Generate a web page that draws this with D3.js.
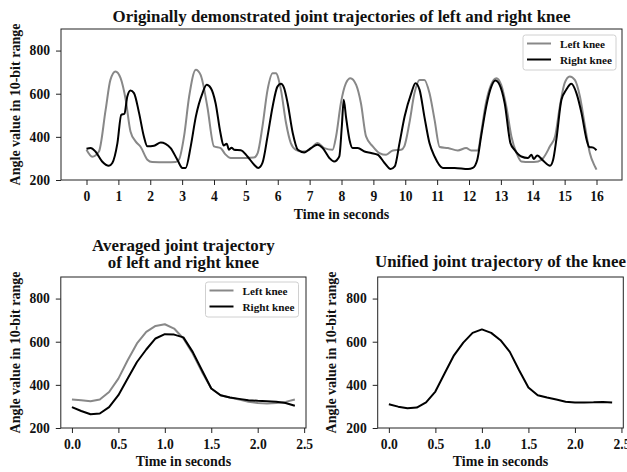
<!DOCTYPE html>
<html><head><meta charset="utf-8">
<script src="https://cdn.jsdelivr.net/npm/d3@7"></script>
<style>
html,body{margin:0;padding:0;background:#fff;}
svg text{font-family:"Liberation Serif","Times New Roman",serif;font-weight:bold;fill:#111;}
</style></head>
<body>
<svg id="chart" width="627" height="472"></svg>
<script>
// ---- Data ----
const seriesNames = ["Left knee", "Right knee"];
const yTicks = [200, 400, 600, 800];
const topXTicks = [0,1,2,3,4,5,6,7,8,9,10,11,12,13,14,15,16];
const cycleXTicks = [0.0, 0.5, 1.0, 1.5, 2.0, 2.5];

// Originally demonstrated trajectories (time in s, value)
const leftTime = [0,0.18,0.39,0.6,0.75,0.91,1.07,1.23,1.38,1.54,1.7,1.91,2.06,2.5,2.8,2.9,3.06,3.22,3.43,3.58,3.79,4.0,4.21,4.35,4.53,5.0,5.25,5.37,5.52,5.68,5.84,5.94,6.1,6.26,6.41,6.57,6.78,6.99,7.25,7.46,7.72,7.83,7.98,8.14,8.28,8.46,8.61,8.77,8.98,9.19,9.4,9.61,9.87,9.97,10.13,10.29,10.45,10.6,10.76,10.92,11.08,11.34,11.65,11.91,12.07,12.28,12.38,12.53,12.69,12.86,13.01,13.17,13.33,13.49,13.64,13.9,14.17,14.33,14.54,14.7,14.85,15.0,15.16,15.32,15.48,15.64,15.79,15.95,16.0];
const leftValues = [340,308,332,525,664,703,672,572,425,379,353,294,283,282,284,294,402,587,711,687,541,356,348,320,302,302,304,325,448,618,695,695,618,464,371,340,332,340,371,348,340,402,556,649,672,641,556,402,356,325,317,337,340,356,464,603,664,664,603,479,353,348,337,348,337,337,418,556,641,672,641,541,402,325,286,283,286,302,356,402,541,649,680,664,587,448,325,263,248];
const rightTime = [0,0.13,0.28,0.49,0.7,0.81,0.97,1.09,1.19,1.28,1.38,1.49,1.65,1.8,1.91,2.12,2.33,2.48,2.64,2.85,3.01,3.11,3.27,3.43,3.64,3.77,3.9,4.05,4.2,4.3,4.4,4.47,4.55,4.63,4.84,5.05,5.26,5.39,5.52,5.68,5.84,5.99,6.1,6.2,6.31,6.47,6.63,6.83,7.04,7.25,7.41,7.62,7.77,7.93,8.01,8.07,8.14,8.25,8.35,8.51,8.72,8.93,9.14,9.35,9.54,9.67,9.82,9.98,10.19,10.32,10.45,10.6,10.76,10.92,11.18,11.55,11.97,12.12,12.26,12.38,12.54,12.7,12.83,12.96,13.12,13.3,13.43,13.64,13.85,13.96,14.03,14.14,14.33,14.54,14.64,14.74,14.9,15.05,15.21,15.37,15.53,15.69,15.77,15.9,16.0];
const rightValues = [345,348,332,286,266,279,371,502,507,587,615,603,510,402,356,359,374,368,348,294,256,256,356,494,603,641,626,556,420,360,368,340,350,340,338,309,271,256,279,402,541,633,646,626,556,418,340,328,348,363,348,302,286,309,448,572,494,387,348,348,332,325,317,279,251,263,371,494,603,649,618,494,371,309,256,256,251,256,294,402,541,633,661,641,556,371,340,309,302,317,297,314,289,266,294,387,572,618,646,603,510,387,353,350,338];

// Averaged cycle (0.1 s steps)
const cycleTime = [0,0.1,0.2,0.3,0.4,0.5,0.6,0.7,0.8,0.9,1.0,1.1,1.2,1.3,1.4,1.5,1.6,1.7,1.8,1.9,2.0,2.1,2.2,2.3,2.4];
const avgLeft  = [332,329,324,332,367,429,514,592,646,673,681,661,615,545,460,383,352,341,332,322,316,313,316,321,332];
const avgRight = [297,279,264,267,297,352,429,506,564,615,635,633,620,553,468,383,352,341,335,329,326,324,322,316,303];
const unified  = [310,299,292,295,319,369,454,537,596,641,657,641,607,553,468,388,352,341,332,322,318,318,319,321,318];

const colors = {"Left knee": "#888888", "Right knee": "#000000"};

// ---- Drawing ----
const svg = d3.select("#chart");
let clipCount = 0;

function panel(cfg) {
  const g = svg.append("g");
  const x = d3.scaleLinear().domain(cfg.xDomain).range([cfg.left, cfg.right]);
  const y = d3.scaleLinear().domain([200, 900]).range([cfg.bottom, cfg.top]);

  const clipId = "clip" + (clipCount++);
  svg.append("clipPath").attr("id", clipId).append("rect")
    .attr("x", cfg.left).attr("y", cfg.top).attr("width", cfg.right - cfg.left).attr("height", cfg.bottom - cfg.top);

  const line = d3.line().x(d => x(d[0])).y(d => y(d[1])).curve(cfg.curve || d3.curveLinear);
  cfg.series.forEach(s => {
    g.append("path").datum(d3.zip(s.t, s.v))
      .attr("d", line).attr("fill", "none")
      .attr("stroke", s.color).attr("stroke-width", 2)
      .attr("stroke-linejoin", "round").attr("clip-path", `url(#${clipId})`);
  });

  // axes
  const xa = g.append("g").attr("transform", `translate(0,${cfg.bottom})`)
    .call(d3.axisBottom(x).tickValues(cfg.xTicks).tickFormat(cfg.xFormat).tickSize(5).tickPadding(5.5).tickSizeOuter(0));
  const ya = g.append("g").attr("transform", `translate(${cfg.left},0)`)
    .call(d3.axisLeft(y).tickValues(yTicks).tickFormat(d3.format("d")).tickSize(5).tickPadding(6).tickSizeOuter(0));
  [xa, ya].forEach(a => {
    a.select(".domain").remove();
    a.selectAll("line").attr("stroke", "#222");
    a.selectAll("text").style("font-size", "13.6px").attr("fill", "#111");
  });
  xa.selectAll("text").attr("dy", "0.74em");
  g.append("rect").attr("x", cfg.left).attr("y", cfg.top)
    .attr("width", cfg.right - cfg.left).attr("height", cfg.bottom - cfg.top)
    .attr("fill", "none").attr("stroke", "#222").attr("stroke-width", 1);

  // labels
  g.append("text").attr("x", (cfg.left + cfg.right) / 2).attr("y", cfg.xLabelY)
    .attr("text-anchor", "middle").style("font-size", "14px").text("Time in seconds");
  g.append("text").attr("transform", `translate(${cfg.yLabelX},${(cfg.top + cfg.bottom) / 2}) rotate(-90)`)
    .attr("text-anchor", "middle").style("font-size", "14px").text("Angle value in 10-bit range");
  cfg.title.forEach((t, i) => {
    g.append("text").attr("x", cfg.titleX).attr("y", cfg.titleY + i * 16.5)
      .attr("text-anchor", "middle").style("font-size", "16.9px").text(t);
  });

  if (cfg.legend) {
    const L = cfg.legend;
    const lg = g.append("g");
    lg.append("rect").attr("x", L.x).attr("y", L.y).attr("width", 93).attr("height", 35)
      .attr("rx", 2.5).attr("fill", "#fff").attr("fill-opacity", 0.85).attr("stroke", "#d0d0d0").attr("stroke-width", 1);
    seriesNames.forEach((n, i) => {
      const yy = L.y + 8.5 + i * 16;
      lg.append("line").attr("x1", L.x + 4).attr("x2", L.x + 28).attr("y1", yy).attr("y2", yy)
        .attr("stroke", colors[n]).attr("stroke-width", 2);
      lg.append("text").attr("x", L.x + 37).attr("y", yy + 4).style("font-size", "11.2px").text(n);
    });
  }
}

panel({
  left: 61, right: 622, top: 29, bottom: 180,
  xDomain: [-0.8, 16.8], xTicks: topXTicks, xFormat: d3.format("d"),
  series: [
    {t: leftTime, v: leftValues, color: colors["Left knee"]},
    {t: rightTime, v: rightValues, color: colors["Right knee"]}
  ],
  curve: d3.curveMonotoneX,
  title: ["Originally demonstrated joint trajectories of left and right knee"],
  titleX: 341.5, titleY: 21.5,
  xLabelY: 218.5, yLabelX: 19.5,
  legend: {x: 523, y: 35}
});

panel({
  left: 60.8, right: 306, top: 277, bottom: 428,
  xDomain: [-0.12, 2.52], xTicks: cycleXTicks, xFormat: d3.format(".1f"),
  series: [
    {t: cycleTime, v: avgLeft, color: colors["Left knee"]},
    {t: cycleTime, v: avgRight, color: colors["Right knee"]}
  ],
  title: ["Averaged joint trajectory", "of left and right knee"],
  titleX: 183.4, titleY: 251,
  xLabelY: 465.5, yLabelX: 19.5,
  legend: {x: 205.5, y: 282}
});

panel({
  left: 377.7, right: 623.3, top: 277, bottom: 428,
  xDomain: [-0.12, 2.52], xTicks: cycleXTicks, xFormat: d3.format(".1f"),
  series: [
    {t: cycleTime, v: unified, color: "#000"}
  ],
  title: ["Unified joint trajectory of the knee"],
  titleX: 500.5, titleY: 266.5,
  xLabelY: 465.5, yLabelX: 335.5
});
</script>
</body></html>
